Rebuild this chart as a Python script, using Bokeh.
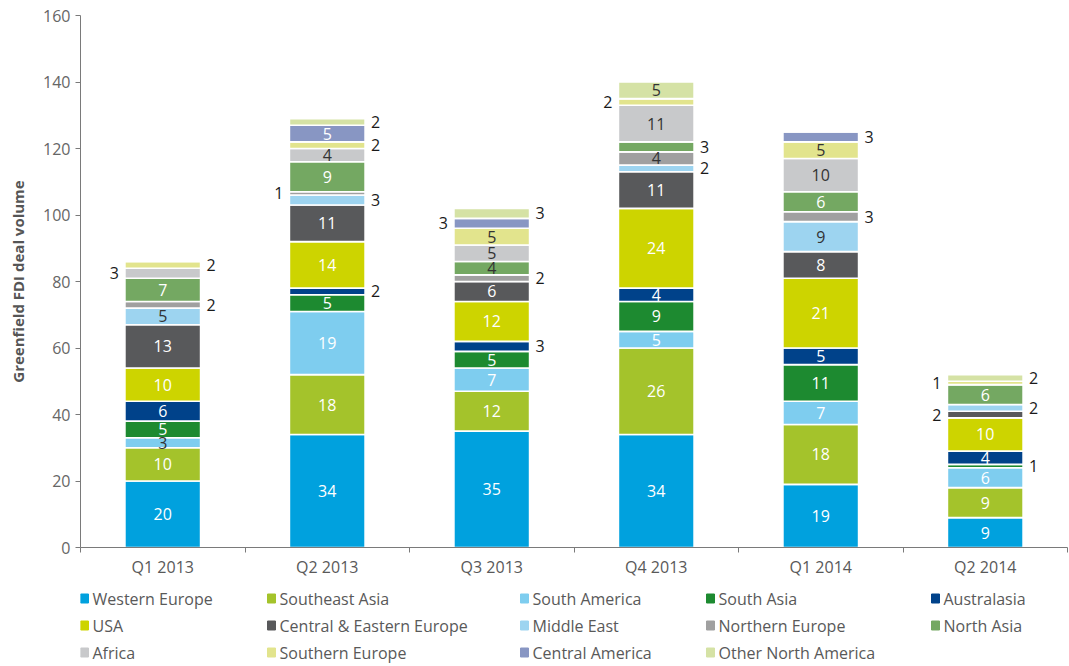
from bokeh.plotting import figure
from bokeh.layouts import column
from bokeh.models import Range1d, FixedTicker, ColumnDataSource
from bokeh.embed import file_html
from bokeh.resources import INLINE
from bokeh.core.properties import value

# ---------------- data ----------------
quarters = ["Q1 2013", "Q2 2013", "Q3 2013", "Q4 2013", "Q1 2014", "Q2 2014"]
series = ["Western Europe", "Southeast Asia", "South America", "South Asia", "Australasia",
          "USA", "Central & Eastern Europe", "Middle East", "Northern Europe", "North Asia",
          "Africa", "Southern Europe", "Central America", "Other North America"]

western_europe = [20, 34, 35, 34, 19, 9]
southeast_asia = [10, 18, 12, 26, 18, 9]
south_america = [3, 19, 7, 5, 7, 6]
south_asia = [5, 5, 5, 9, 11, 1]
australasia = [6, 2, 3, 4, 5, 4]
usa = [10, 14, 12, 24, 21, 10]
central_eastern_europe = [13, 11, 6, 11, 8, 2]
middle_east = [5, 3, 0, 2, 9, 2]
northern_europe = [2, 1, 2, 4, 3, 0]
north_asia = [7, 9, 4, 3, 6, 6]
africa = [3, 4, 5, 11, 10, 0]
southern_europe = [2, 2, 5, 2, 5, 1]
central_america = [0, 5, 3, 0, 3, 0]
other_north_america = [0, 2, 3, 5, 0, 2]

y_ticks = [0, 20, 40, 60, 80, 100, 120, 140, 160]

values = [western_europe, southeast_asia, south_america, south_asia, australasia, usa,
          central_eastern_europe, middle_east, northern_europe, north_asia, africa,
          southern_europe, central_america, other_north_america]

colors = ["#00A1DE", "#A4C32B", "#7ECDEF", "#1D8A30", "#00428A", "#CDD400", "#58595B",
          "#9DD4F0", "#A0A0A0", "#74A862", "#C8C9CB", "#E2E48D", "#8896C3", "#D5E2A5"]

# label styling (outside placement and dark text)
outside = {
    ("Q1 2013", "Northern Europe"): "R", ("Q1 2013", "Africa"): "L", ("Q1 2013", "Southern Europe"): "R",
    ("Q2 2013", "Australasia"): "R", ("Q2 2013", "Middle East"): "R", ("Q2 2013", "Northern Europe"): "L",
    ("Q2 2013", "Southern Europe"): "R", ("Q2 2013", "Other North America"): "R",
    ("Q3 2013", "Australasia"): "R", ("Q3 2013", "Northern Europe"): "R", ("Q3 2013", "Central America"): "L",
    ("Q3 2013", "Other North America"): "R",
    ("Q4 2013", "Middle East"): "R", ("Q4 2013", "North Asia"): "R", ("Q4 2013", "Southern Europe"): "L",
    ("Q1 2014", "Northern Europe"): "R", ("Q1 2014", "Central America"): "R",
    ("Q2 2014", "South Asia"): "R", ("Q2 2014", "Central & Eastern Europe"): "L", ("Q2 2014", "Middle East"): "R",
    ("Q2 2014", "Southern Europe"): "L", ("Q2 2014", "Other North America"): "R",
}
dark_series = {"Middle East", "Northern Europe", "Africa", "Southern Europe", "Other North America"}
dark_extra = {("Q1 2013", "South America"), ("Q3 2013", "North Asia")}

FONT = "Open Sans"
W = 1069
H_MAIN = 580
H_LEG = 84
BL, BR = 80, 2
BAR_W = 0.46

# ---------------- main chart ----------------
xs = [i + 0.5 for i in range(len(quarters))]
data = {"x": xs}
for name, vals in zip(series, values):
    data[name] = vals
src = ColumnDataSource(data)

p = figure(width=W, height=H_MAIN, x_range=Range1d(0, len(quarters)), y_range=Range1d(0, 160),
           output_backend="svg", toolbar_location=None,
           min_border_left=BL, min_border_right=BR, min_border_top=15, min_border_bottom=33)
p.outline_line_color = None
p.grid.visible = False
p.background_fill_color = "white"

p.vbar_stack(series, x="x", width=BAR_W, color=colors, line_color="white", line_width=1.6, source=src)

# value labels
groups = {"C": {"x": [], "y": [], "t": [], "c": []},
          "L": {"x": [], "y": [], "t": [], "c": []},
          "R": {"x": [], "y": [], "t": [], "c": []}}
for qi, q in enumerate(quarters):
    cum = 0
    for si, s in enumerate(series):
        v = values[si][qi]
        if v > 0:
            pos = outside.get((q, s), "C")
            g = groups[pos]
            if pos == "C":
                g["x"].append(xs[qi])
                g["c"].append("#333333" if (s in dark_series or (q, s) in dark_extra) else "white")
            elif pos == "L":
                g["x"].append(xs[qi] - BAR_W / 2)
                g["c"].append("#1a1a1a")
            else:
                g["x"].append(xs[qi] + BAR_W / 2)
                g["c"].append("#1a1a1a")
            g["y"].append(cum + v / 2)
            g["t"].append(str(v))
        cum += v

for pos, align, off in [("C", "center", 0), ("L", "right", -6), ("R", "left", 6)]:
    g = groups[pos]
    p.text(x=g["x"], y=g["y"], text=g["t"], text_color=g["c"], text_align=align,
           text_baseline="middle", x_offset=off, text_font=value(FONT), text_font_size="16px")

# axes
xa = p.xaxis[0]
xa.ticker = FixedTicker(ticks=xs, minor_ticks=list(range(len(quarters) + 1)))
xa.major_label_overrides = {x: q for x, q in zip(xs, quarters)}
xa.major_tick_out = 0
xa.major_tick_in = 0
xa.minor_tick_out = 5
xa.minor_tick_in = 0
xa.minor_tick_line_color = "#7a7a7a"
xa.axis_line_color = "#7a7a7a"
xa.major_label_standoff = 3
xa.major_label_text_font = FONT
xa.major_label_text_font_size = "16px"
xa.major_label_text_color = "#595959"

ya = p.yaxis[0]
ya.ticker = FixedTicker(ticks=y_ticks)
ya.major_tick_out = 5
ya.major_tick_in = 0
ya.major_tick_line_color = "#7a7a7a"
ya.minor_tick_line_color = None
ya.axis_line_color = "#7a7a7a"
ya.major_label_standoff = 5
ya.major_label_text_font = FONT
ya.major_label_text_font_size = "16px"
ya.major_label_text_color = "#666666"
ya.axis_label = "Greenfield FDI deal volume"
ya.axis_label_text_font = FONT
ya.axis_label_text_font_style = "bold"
ya.axis_label_text_font_size = "15px"
ya.axis_label_text_color = "#555555"
ya.axis_label_standoff = 12

# ---------------- legend (frame aligned with main frame; x in page pixels) ----------------
lg = figure(width=W, height=H_LEG, x_range=Range1d(BL, W - BR), y_range=Range1d(H_LEG, 0),
            output_backend="svg", toolbar_location=None,
            min_border_left=BL, min_border_right=BR, min_border_top=0, min_border_bottom=0)
lg.axis.visible = False
lg.grid.visible = False
lg.outline_line_color = None

col_x = [80, 267, 520, 706, 931]
row_y = [18, 45, 72]
ncol = 5
sq_x, sq_y, tx, ty, tt = [], [], [], [], []
for i, s in enumerate(series):
    r, c = divmod(i, ncol)
    sq_x.append(col_x[c] + 4)
    sq_y.append(row_y[r])
    tx.append(col_x[c] + 12)
    ty.append(row_y[r])
    tt.append(s)
lg.rect(x=sq_x, y=sq_y, width=8, height=9, color=colors)
lg.text(x=tx, y=ty, text=tt, text_color="#595959", text_align="left", text_baseline="middle",
        text_font=value(FONT), text_font_size="16px")

layout = column(p, lg, spacing=0)
open("out.html", "w").write(file_html(layout, INLINE))
